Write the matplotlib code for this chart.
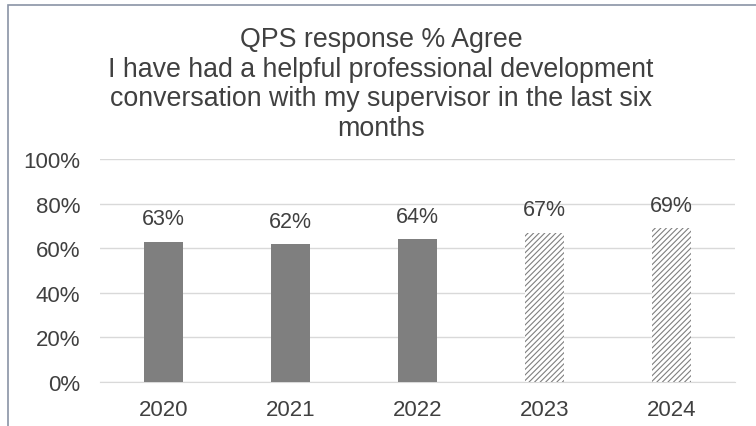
import matplotlib
matplotlib.use("Agg")
import matplotlib.pyplot as plt
from matplotlib.patches import Rectangle

years = ["2020", "2021", "2022", "2023", "2024"]
values = [63, 62, 64, 67, 69]
hatched = [False, False, False, True, True]
yticks = [0, 20, 40, 60, 80, 100]
title = ("QPS response % Agree\nI have had a helpful professional development\n"
         "conversation with my supervisor in the last six\nmonths")

plt.rcParams['font.family'] = ['Liberation Sans', 'DejaVu Sans']
plt.rcParams['hatch.color'] = '#595959'
plt.rcParams['hatch.linewidth'] = 0.8

fig = plt.figure(figsize=(7.56, 4.27), dpi=100)
ax = fig.add_axes([0.132, 0.103, 0.840, 0.522])

x = list(range(len(years)))
for xi, v, h in zip(x, values, hatched):
    if h:
        ax.bar(xi, v, width=0.31, color='white', edgecolor='#7f7f7f', hatch='//////',
               linewidth=0, zorder=3)
    else:
        ax.bar(xi, v, width=0.31, color='#7f7f7f', linewidth=0, zorder=3)
    ax.text(xi, v + 5.5, f"{v}%", ha='center', va='bottom', fontsize=15.5, color='#404040')

ax.set_xlim(-0.5, len(years) - 0.5)
ax.set_ylim(0, 100)
ax.set_yticks(yticks)
ax.set_yticklabels([f"{t}%" for t in yticks])
ax.set_xticks(x)
ax.set_xticklabels(years)
ax.tick_params(axis='both', length=0, labelsize=16, labelcolor='#404040')
ax.tick_params(axis='y', pad=14)
ax.tick_params(axis='x', pad=12)
ax.grid(axis='y', color='#d9d9d9', linewidth=1, zorder=0)
for s in ['top', 'right', 'left']:
    ax.spines[s].set_visible(False)
ax.spines['bottom'].set_color('#d9d9d9')

fig.text(0.504, 1 - 27/427, title, ha='center', va='top', fontsize=19.3, color='#404040',
         linespacing=1.18)

fig.patches.append(Rectangle((8/756, -0.1), 1.2, 1 - 6/427 + 0.1, transform=fig.transFigure,
                             fill=False, edgecolor='#8a94a6', linewidth=1.2))

fig.savefig("out.png", dpi=100)
